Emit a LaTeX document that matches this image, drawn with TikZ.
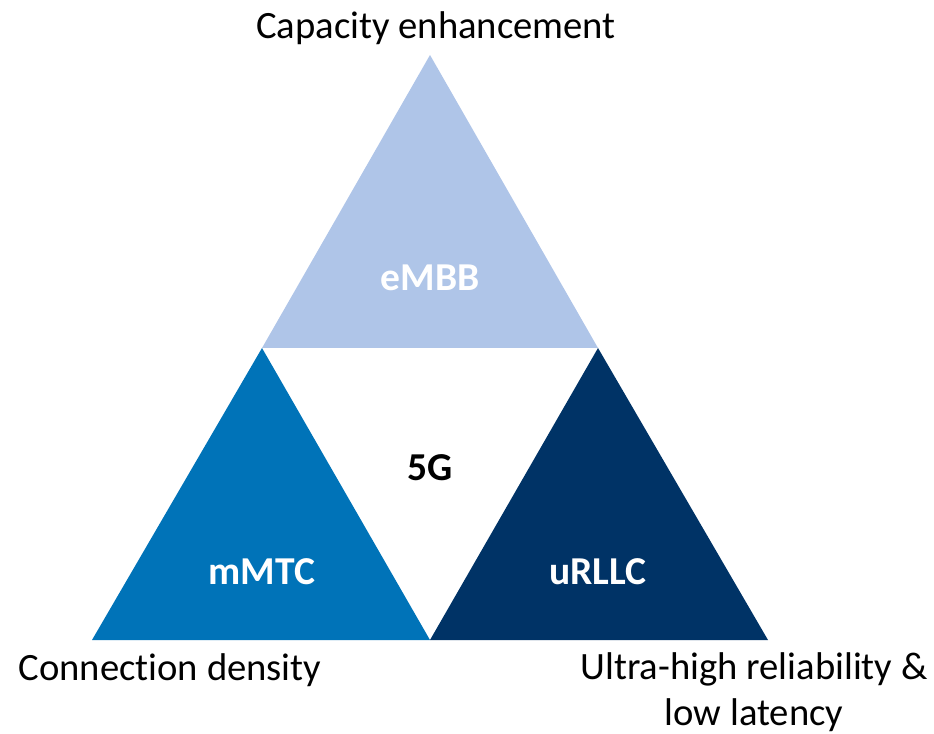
\documentclass[tikz,border=0pt]{standalone}
\usepackage{fontspec}
\setmainfont[RawFeature=-liga]{Carlito}
\usepackage{tikz}
\usetikzlibrary{positioning}

\definecolor{embbblue}{HTML}{AFC5E8}
\definecolor{mmtcblue}{HTML}{0073B8}
\definecolor{urllcblue}{HTML}{003366}

\tikzset{
  tri label/.style={font=\fontsize{22.5}{26}\selectfont\bfseries, text=white},
  corner text/.style={font=\fontsize{22}{26}\selectfont, align=center}
}

\begin{document}
\begin{tikzpicture}
\useasboundingbox (0,0) rectangle (18.68,14.66);
% corners of the three triangles
\coordinate (top) at (8.6,13.56);
\coordinate (midL) at (5.24,7.7);
\coordinate (midR) at (11.96,7.7);
\coordinate (botL) at (1.84,1.86);
\coordinate (botM) at (8.6,1.86);
\coordinate (botR) at (15.36,1.86);

% fill the triangles
\fill[embbblue] (top) -- (midL) -- (midR) -- cycle;
\fill[mmtcblue] (midL) -- (botL) -- (botM) -- cycle;
\fill[urllcblue] (midR) -- (botM) -- (botR) -- cycle;

% text
\node[tri label] (embb) at (8.6,9.1) {eMBB};
\node[tri label] (mmtc) at (5.24,3.22) {mMTC};
\node[tri label] (urllc) at (11.96,3.22) {uRLLC};
\node[tri label, text=black] (fiveg) at (8.6,5.3) {5G};

\node[corner text] (capacity) at (8.72,14.1) {Capacity enhancement};
\node[corner text] (density) at (3.4,1.26) {Connection density};
\node[corner text] (latency) at (15.08,0.82) {Ultra-high reliability \&\\ low latency};
\end{tikzpicture}
\end{document}
